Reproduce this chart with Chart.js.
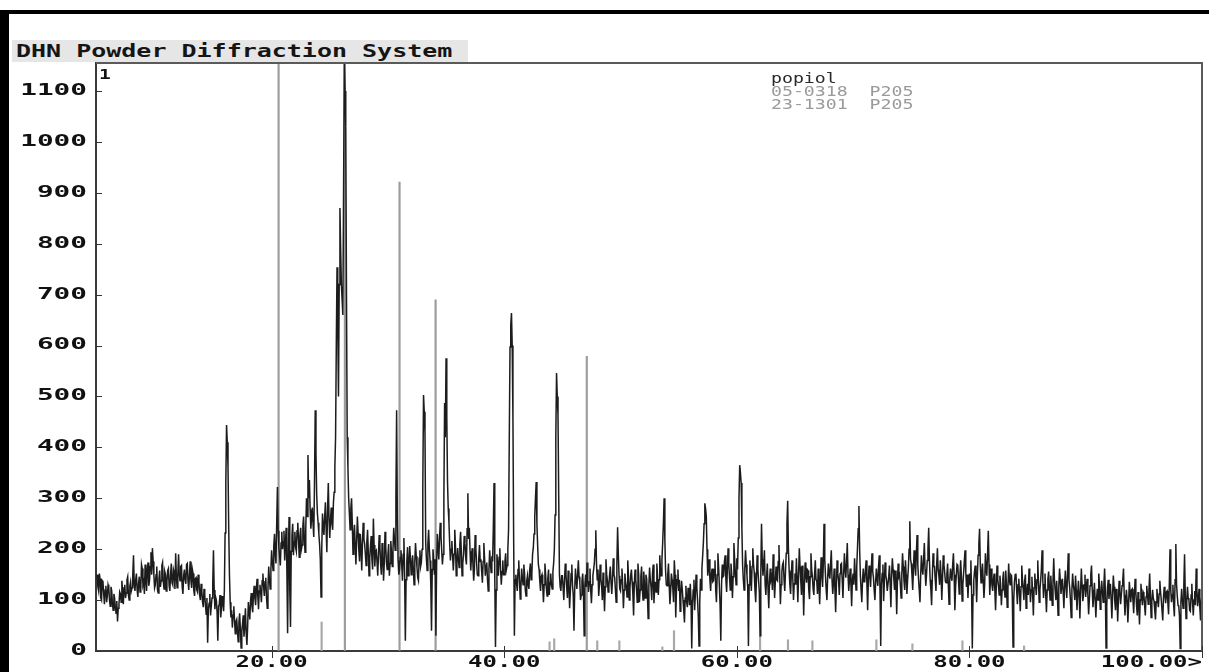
<!DOCTYPE html>
<html><head><meta charset="utf-8">
<script src="https://cdn.jsdelivr.net/npm/chart.js@4.4.1/dist/chart.umd.min.js"></script>
<style>
html,body{margin:0;padding:0;background:#fff;overflow:hidden;}
#wrap{position:relative;width:1209px;height:672px;}
canvas{position:absolute;left:0;top:0;}
#title{position:absolute;left:12px;top:40px;width:456px;height:22px;background:#e6e6e6;}
#title span{position:absolute;left:4px;top:1px;font:bold 17px "DejaVu Sans Mono";color:#151515;white-space:nowrap;transform:scaleX(1.47);transform-origin:0 0;}
</style></head>
<body>
<div id="wrap">
<canvas id="c" width="1209" height="672"></canvas>
<div id="title"><span>DHN Powder Diffraction System</span></div>
</div>
<script>
// ---- scan grid (2-theta, degrees) ----
const scanStart = 5.0;
const scanStep = 0.0625;

const scan05 = [150,126,118,152,142,104,100,138,135,112,92,120,128,96,108,130,
 124,100,88,126,118,94,80,112,104,86,74,98,58,84,92,116,
 112,96,138,118,92,124,130,104,114,140,146,110,100,128,136,118,
 124,150,188,132,118,140,152,120,106,134,146,116,122,170,162,130,
 136,112,170,142,118,160,174,128,138,166,194,150,202,176,150,124];
const scan10 = [130,150,166,120,114,142,158,126,138,168,174,136,122,156,150,118,
 136,158,162,128,118,150,172,134,130,160,154,122,192,146,124,152,
 190,150,138,166,168,126,112,148,160,140,132,170,172,136,120,150,
 176,138,124,160,152,118,108,142,144,120,116,150,138,110,100,132,
 118,96,86,122,110,90,72,104,16,82,94,112,70,88,104,130];
const scan15 = [198,120,82,106,100,76,20,88,92,110,66,84,108,94,78,120,
 232,330,444,410,362,240,150,96,66,80,46,70,88,60,34,58,
 62,40,18,56,74,44,6,38,54,70,28,50,84,36,12,46,
 96,80,62,98,114,88,76,110,128,104,90,120,142,108,82,118,
 130,114,96,138,152,126,108,136,144,104,84,124,166,140,122,160];
const scan20 = [198,176,158,206,230,190,172,250,322,236,204,186,168,212,234,200,
 214,236,178,210,242,160,35,180,263,120,47,196,226,250,188,214,
 234,204,196,236,252,218,184,226,242,200,208,246,264,222,194,240,
 300,264,385,300,336,278,240,262,282,250,224,330,473,390,308,270,
 252,230,210,180,106,200,270,246,228,262,292,240,194,280,330,260];
const scan25 = [222,256,282,250,238,290,312,360,420,600,754,640,500,720,870,790,
 719,690,660,900,1160,1100,1030,700,420,360,300,270,238,280,300,250,
 190,226,248,206,170,218,264,232,198,176,230,204,158,214,252,220,
 210,190,168,214,238,196,148,182,206,226,180,160,260,208,166,196,
 198,176,148,188,228,204,170,150,212,186,138,172,234,206,174,160];
const scan30 = [188,210,148,172,216,192,166,200,242,220,198,300,473,260,178,150,
 160,184,198,170,138,190,222,150,20,140,176,204,148,168,206,182,
 150,172,188,160,130,176,212,186,164,144,138,182,198,166,174,200,
 320,503,470,428,212,180,158,210,238,200,178,130,40,160,200,176,
 150,180,30,170,230,204,180,220,252,226,198,170,190,300,487,420];
const scan35 = [575,460,332,280,252,210,178,200,216,186,158,190,238,204,148,176,
 202,180,164,210,234,196,148,172,190,226,212,184,170,240,310,220,
 242,196,158,186,202,170,138,160,228,200,174,150,148,182,208,176,
 180,156,134,176,212,182,148,168,174,140,118,160,198,172,154,186,
 176,240,330,150,8,120,190,170,148,184,202,160,130,156,178,150];
const scan40 = [150,176,192,160,168,200,238,420,597,640,664,600,458,220,30,140,
 150,132,118,160,178,140,102,126,162,144,130,170,152,120,108,138,
 148,130,122,158,172,140,150,190,202,230,263,300,332,250,208,170,
 160,136,118,146,150,128,96,130,172,150,124,108,142,160,110,134,
 152,130,122,156,172,200,267,420,546,500,464,300,150,126,118,148];
const scan45 = [148,126,100,140,172,150,124,104,158,130,84,118,152,170,128,110,
 40,120,162,140,122,150,178,146,136,100,110,138,152,120,30,130,
 150,126,174,140,116,136,162,120,94,130,148,160,172,200,237,170,
 140,160,108,130,170,142,128,100,154,120,78,126,180,150,138,116,
 128,150,166,134,112,140,182,150,144,120,96,170,243,190,148,122];
const scan50 = [118,140,162,130,84,120,152,136,128,106,178,146,100,124,148,160,
 136,112,70,130,160,140,122,96,172,150,96,120,146,166,124,100,
 156,130,104,150,142,110,64,128,164,140,126,100,152,170,94,124,
 136,116,172,146,110,140,188,160,148,180,212,250,300,220,158,130,
 128,150,172,130,92,118,152,140,122,96,178,150,66,120,140,160];
const scan55 = [118,140,78,112,138,120,100,80,56,104,128,96,86,124,110,90,
 132,100,5,88,120,140,80,112,150,126,100,70,10,96,142,120,
 162,186,212,250,290,280,265,200,148,166,180,140,118,150,162,136,
 138,160,178,120,96,150,192,164,128,90,20,130,170,146,148,176,
 188,140,116,160,202,170,144,120,172,150,104,146,212,180,154,130];
const scan60 = [182,160,222,300,365,350,330,240,168,140,120,162,198,170,148,126,
 10,130,178,150,118,166,202,170,154,120,96,140,188,160,138,116,
 30,150,250,180,148,170,198,130,110,146,172,120,84,136,162,140,
 146,120,190,150,104,136,166,140,138,176,208,150,92,130,156,170,
 174,140,118,156,192,250,295,200,158,130,112,150,178,144,100,132];
const scan65 = [152,130,182,140,96,150,202,166,138,110,168,140,70,130,174,150,
 134,160,158,120,102,146,192,160,146,122,110,150,178,140,138,112,
 162,130,92,140,184,150,126,170,250,180,148,120,100,144,172,150,
 142,170,198,140,112,136,162,120,76,130,178,152,138,110,152,170,
 172,140,104,150,192,160,144,176,212,150,118,140,162,130,88,140];
const scan70 = [152,130,182,150,120,166,202,240,285,200,148,120,96,140,162,136,
 138,160,178,130,80,140,168,150,126,160,192,156,144,120,100,136,
 162,140,128,166,188,120,10,130,152,170,98,136,174,150,138,118,
 118,146,168,130,86,150,182,160,142,120,158,130,72,140,172,146,
 150,130,104,150,192,166,138,120,178,150,112,140,162,200,255,180];
const scan75 = [172,150,120,160,198,170,148,190,228,170,142,120,96,150,188,160,
 150,180,212,160,128,150,178,200,242,180,140,120,90,146,192,166,
 166,140,118,170,202,160,148,130,178,150,100,140,188,170,154,136,
 134,150,172,130,92,140,162,146,138,170,192,150,80,126,150,170,
 168,140,112,150,178,146,98,130,152,176,198,156,126,150,104,140];
const scan80 = [152,130,178,120,5,110,138,156,168,140,96,150,188,210,240,170,
 134,150,172,140,104,130,192,160,148,190,236,170,110,140,162,130,
 118,140,152,120,80,126,168,140,128,110,148,130,90,120,142,156,
 124,106,158,130,86,120,172,140,130,150,148,110,8,100,136,150,
 152,120,92,130,142,110,78,126,168,140,122,100,138,150,84,116];
const scan85 = [132,110,162,130,96,120,146,112,70,124,152,130,110,140,178,136,
 96,120,138,160,198,140,104,130,152,110,76,120,142,156,126,100,
 148,120,90,136,182,140,118,100,138,110,70,126,162,140,112,130,
 142,116,84,130,158,126,104,150,192,140,124,100,66,120,152,130,
 118,100,148,120,80,110,138,112,64,120,162,130,98,110,130,150];
const scan90 = [106,126,142,110,72,100,128,150,168,120,86,110,134,100,66,104,
 122,100,152,126,82,110,138,116,96,130,162,120,6,90,124,140,
 102,120,132,100,64,112,148,126,98,80,122,110,58,100,138,116,
 92,110,128,140,162,110,70,96,120,100,56,90,136,116,96,120,
 122,100,74,110,142,116,88,70,116,94,52,100,132,110,90,116];
const scan95 = [112,90,70,106,128,110,92,120,152,110,66,96,120,104,98,80,
 62,96,122,100,86,112,138,116,100,80,60,104,126,110,94,116,
 118,96,72,130,200,120,96,110,130,90,68,140,210,130,108,90,
 88,70,5,96,122,100,84,130,190,110,64,96,126,104,100,80,
 78,110,132,96,70,100,118,90,162,120,88,104,122,86,60,96,112];

// ---- reference patterns (stick positions / intensities) ----
const ref0318Pos = [20.6, 26.3, 31.0, 34.1, 47.1];
const ref0318Int = [1160, 1160, 921, 690, 579];
const ref1301Pos = [24.3, 43.9, 44.3, 48.0, 49.9, 53.6, 54.6, 62.0, 64.4, 66.5, 72.0, 75.1, 79.4, 84.7];
const ref1301Int = [57, 18, 24, 20, 20, 8, 40, 30, 22, 20, 22, 14, 20, 10];

// ---- axes ----
const xMin = 4.9, xMax = 100;
const yMin = 0, yMax = 1155;
const xTicks = [20, 40, 60, 80, 100];
const xTickLabels = ['20.00', '40.00', '60.00', '80.00', '100.00>'];
const yTicks = [0, 100, 200, 300, 400, 500, 600, 700, 800, 900, 1000, 1100];

const sampleName = 'popiol';
const ref0318Name = '05-0318  P205';
const ref1301Name = '23-1301  P205';
const panelNumber = '1';

const intensities = [].concat(scan05, scan10, scan15, scan20, scan25, scan30, scan35, scan40, scan45, scan50,
  scan55, scan60, scan65, scan70, scan75, scan80, scan85, scan90, scan95);
const scanPoints = intensities.map((v, i) => ({x: scanStart + i * scanStep, y: v}));
const ref0318 = ref0318Pos.map((p, i) => ({x: p, y: ref0318Int[i]}));
const ref1301 = ref1301Pos.map((p, i) => ({x: p, y: ref1301Int[i]}));

const decor = {
  id: 'decor',
  beforeDraw(chart) {
    // stretch axis label glyphs horizontally, like the old bitmap screen font
    const ctx = chart.ctx;
    const orig = CanvasRenderingContext2D.prototype.fillText;
    ctx.fillText = function (t, x, y) {
      const sx = String(t).indexOf('.') >= 0 ? 1.6 : 1.85;
      this.save(); this.translate(x, y); this.scale(sx, 1); orig.call(this, t, 0, 0); this.restore();
    };
  },
  beforeDatasetsDraw(chart) { delete chart.ctx.fillText; },
  afterDraw(chart) {
    const ctx = chart.ctx, a = chart.chartArea, xs = chart.scales.x, ys = chart.scales.y;
    delete ctx.fillText;
    ctx.save();
    // frame top & right
    ctx.strokeStyle = '#5a5a5a'; ctx.lineWidth = 2;
    ctx.beginPath(); ctx.moveTo(a.left, a.top); ctx.lineTo(a.right, a.top); ctx.lineTo(a.right, a.bottom); ctx.stroke();
    // inward ticks
    ctx.strokeStyle = '#333'; ctx.lineWidth = 1;
    yTicks.forEach(v => { const p = Math.round(ys.getPixelForValue(v)) + 0.5; ctx.beginPath(); ctx.moveTo(a.left, p); ctx.lineTo(a.left + 6, p); ctx.stroke(); });
    xTicks.forEach(v => { const p = Math.round(xs.getPixelForValue(v)) + 0.5; ctx.beginPath(); ctx.moveTo(p, a.bottom - 5); ctx.lineTo(p, a.bottom + 7); ctx.stroke(); });
    // panel number
    ctx.fillStyle = '#111'; ctx.font = 'bold 14px "DejaVu Sans Mono"'; ctx.textBaseline = 'alphabetic';
    ctx.save(); ctx.translate(a.left + 3, a.top + 16); ctx.scale(1.4, 1); ctx.fillText(panelNumber, 0, 0); ctx.restore();
    // legend (dataset labels)
    const ds = chart.data.datasets;
    const cols = ['#2a2a2a', '#9a9a9a', '#9a9a9a'];
    ctx.font = '14px "DejaVu Sans Mono"';
    ds.forEach((d, i) => {
      ctx.save(); ctx.fillStyle = cols[i]; ctx.translate(771, 83 + i * 13); ctx.scale(1.3, 1); ctx.fillText(d.label, 0, 0); ctx.restore();
    });
    // outer black frame
    ctx.fillStyle = '#000';
    ctx.fillRect(0, 10, 1209, 4);
    ctx.fillRect(0, 10, 9, 662);
    ctx.restore();
  }
};

new Chart(document.getElementById('c'), {
  type: 'line',
  data: {
    datasets: [
      {label: sampleName, data: scanPoints, borderColor: '#1c1c1c', borderWidth: 1.5, pointRadius: 0, tension: 0, order: 0},
      {type: 'bar', label: ref0318Name, data: ref0318, backgroundColor: '#9c9c9c', barThickness: 1.5, grouped: false, order: 1},
      {type: 'bar', label: ref1301Name, data: ref1301, backgroundColor: '#a8a8a8', barThickness: 1.5, grouped: false, order: 2}
    ]
  },
  options: {
    responsive: false,
    devicePixelRatio: 1,
    animation: false,
    events: [],
    layout: {padding: {left: 0, right: 7, top: 63, bottom: 0}},
    plugins: {legend: {display: false}, tooltip: {enabled: false}, title: {display: false}},
    scales: {
      x: {
        type: 'linear', min: xMin, max: xMax, offset: false,
        afterBuildTicks: s => { s.ticks = [{value: xMin}].concat(xTicks.map(v => ({value: v}))); },
        afterFit: s => { s.height = 21; },
        ticks: {autoSkip: false, maxRotation: 0, align: 'inner', padding: 3, color: '#111',
          font: {family: 'DejaVu Sans Mono', size: 15, weight: 'bold'},
          callback: (v, i) => i === 0 ? '' : xTickLabels[i - 1]},
        grid: {display: true, drawOnChartArea: false, drawTicks: false, offset: false},
        border: {display: true, color: '#3a3a3a', width: 2}
      },
      y: {
        type: 'linear', min: yMin, max: yMax,
        afterBuildTicks: s => { s.ticks = yTicks.map(v => ({value: v})); },
        afterFit: s => { s.width = 96; },
        ticks: {autoSkip: false, padding: 9, color: '#111',
          font: {family: 'DejaVu Sans Mono', size: 15, weight: 'bold'},
          callback: v => String(v)},
        grid: {display: true, drawOnChartArea: false, drawTicks: false},
        border: {display: true, color: '#3a3a3a', width: 2}
      }
    }
  },
  plugins: [decor]
});
</script>
</body></html>
